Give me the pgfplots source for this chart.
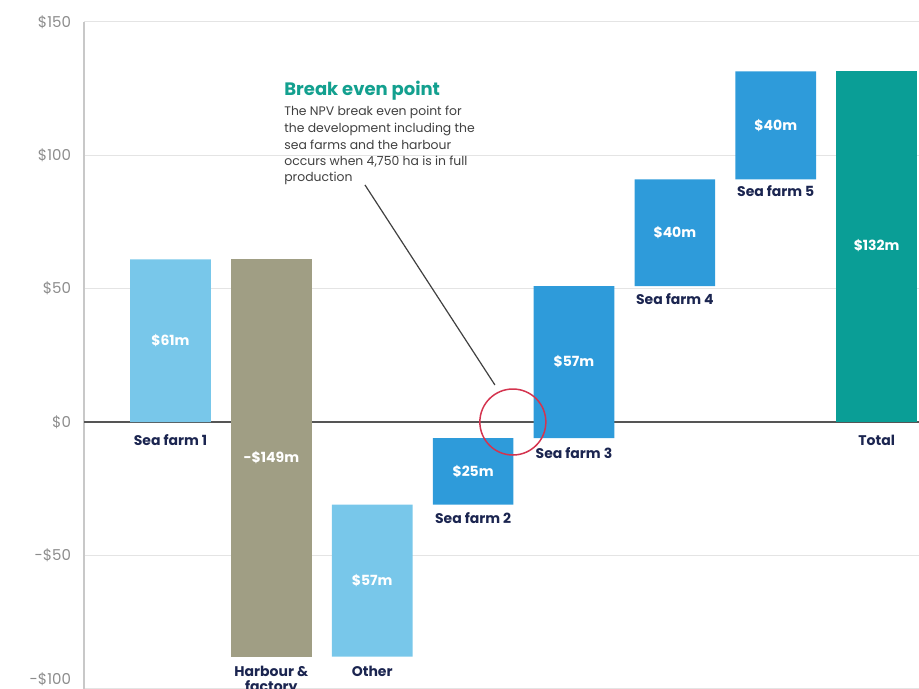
\documentclass[border=0pt]{standalone}
\usepackage{pgfplots}
\pgfplotsset{compat=1.18}
\usepackage{pgfplotstable}
\usepackage{fontspec}
\setmainfont{Poppins}
\definecolor{lightblue}{HTML}{78C7EA}
\definecolor{khaki}{HTML}{A09E84}
\definecolor{farmblue}{HTML}{2E9BDA}
\definecolor{totalteal}{HTML}{0A9E96}
\definecolor{navy}{HTML}{1B2550}
\definecolor{tickgrey}{HTML}{8C8C8C}
\definecolor{gridgrey}{HTML}{E4E4E4}
\definecolor{axisgrey}{HTML}{C8C8C8}
\definecolor{zerogrey}{HTML}{555555}
\definecolor{titleteal}{HTML}{13A08F}
\definecolor{circred}{HTML}{D4344F}
\definecolor{bodygrey}{HTML}{404040}

\pgfplotstableread{
x base light khaki blue teal
0 0 61 0 0 0
1 -88 0 149 0 0
2 -88 57 0 0 0
3 -31 0 0 25 0
4 -6 0 0 57 0
5 51 0 0 40 0
6 91 0 0 40.5 0
7 0 0 0 0 131.5
}\data

\begin{document}
\begin{tikzpicture}
\useasboundingbox (0,0) rectangle (459.5pt,344.35pt);
\begin{axis}[
  at={(42pt,0pt)}, anchor=south west,
  scale only axis, width=417.5pt, height=333.35pt,
  xmin=-0.857, xmax=7.42, ymin=-100, ymax=150,
  ybar stacked, stack negative=on previous, bar width=0.8,
  axis x line=none,
  axis y line*=left,
  y axis line style={draw=axisgrey, line width=0.6pt},
  ytick={-100,-50,50,100,150},
  yticklabels={\raisebox{10pt}{-\$100},-\$50,\$50,\$100,\$150},
  extra y ticks={0},
  extra y tick labels={\$0},
  extra y tick style={grid style={draw=zerogrey, line width=0.6pt}},
  major tick length=0pt,
  ymajorgrids,
  grid style={draw=gridgrey, line width=0.5pt},
  yticklabel style={font=\fontsize{7.5}{8}\selectfont, text=tickgrey, xshift=-3pt},
  clip=false,
]
\addplot[fill=none, draw=none] table[x=x,y=base]{\data};
\addplot[fill=lightblue, draw=none] table[x=x,y=light]{\data};
\addplot[fill=khaki, draw=none] table[x=x,y=khaki]{\data};
\addplot[fill=farmblue, draw=none] table[x=x,y=blue]{\data};
\addplot[fill=totalteal, draw=none] table[x=x,y=teal]{\data};

\coordinate (v0) at (axis cs:0,30.5);
\coordinate (v1) at (axis cs:1,-13.5);
\coordinate (v2) at (axis cs:2,-59.5);
\coordinate (v3) at (axis cs:3,-18.5);
\coordinate (v4) at (axis cs:4,22.5);
\coordinate (v5) at (axis cs:5,71);
\coordinate (v6) at (axis cs:6,111);
\coordinate (v7) at (axis cs:7,66);
\coordinate (c0) at (axis cs:0,0);
\coordinate (c1) at (axis cs:1,-88);
\coordinate (c2) at (axis cs:2,-88);
\coordinate (c3) at (axis cs:3,-31);
\coordinate (c4) at (axis cs:4,-6);
\coordinate (c5) at (axis cs:5,51);
\coordinate (c6) at (axis cs:6,91);
\coordinate (c7) at (axis cs:7,0);
\coordinate (t0) at (axis cs:1.125,122.6);
\coordinate (b1) at (axis cs:1.125,114.75);
\coordinate (b2) at (axis cs:1.125,108.4);
\coordinate (b3) at (axis cs:1.125,102.0);
\coordinate (b4) at (axis cs:1.125,96.0);
\coordinate (b5) at (axis cs:1.125,90.0);
\coordinate (l1) at (axis cs:1.928,88.9);
\coordinate (l2) at (axis cs:3.216,13.9);
\coordinate (ring) at (axis cs:3.394,0);
\end{axis}

\tikzset{val/.style={font=\fontsize{7}{7.5}\selectfont\bfseries, text=white, inner sep=0pt},
         cat/.style={font=\fontsize{7}{7.5}\selectfont\bfseries, text=navy, inner sep=0pt, anchor=base, align=center},
         body/.style={anchor=base west, inner sep=0pt, font=\fontsize{6.2}{7}\selectfont, text=bodygrey}}
\node[val] at (v0) {\$61m};
\node[val] at (v1) {-\$149m};
\node[val] at (v2) {\$57m};
\node[val] at (v3) {\$25m};
\node[val] at (v4) {\$57m};
\node[val] at (v5) {\$40m};
\node[val] at (v6) {\$40m};
\node[val] at (v7) {\$132m};

\node[cat] at ([yshift=-11.5pt]c0) {Sea farm 1};
\node[cat, font=\fontsize{7}{7.5}\selectfont\bfseries] at ([yshift=-17.5pt]c1) {Harbour \&\\factory};
\node[cat] at ([yshift=-10pt]c2) {Other};
\node[cat] at ([yshift=-9.5pt]c3) {Sea farm 2};
\node[cat] at ([yshift=-10pt]c4) {Sea farm 3};
\node[cat] at ([yshift=-9pt]c5) {Sea farm 4};
\node[cat] at ([yshift=-8.5pt]c6) {Sea farm 5};
\node[cat] at ([yshift=-11.5pt]c7) {Total};

\node[anchor=base west, inner sep=0pt, font=\fontsize{9}{10}\selectfont\bfseries, text=titleteal] at (t0) {Break even point};
\node[body] at (b1) {The NPV break even point for};
\node[body] at (b2) {the development including the};
\node[body] at (b3) {sea farms and the harbour};
\node[body] at (b4) {occurs when 4,750 ha is in full};
\node[body] at (b5) {production};
\draw[bodygrey, line width=0.6pt] (l1) -- (l2);
\draw[circred, line width=0.75pt] (ring) circle[radius=16.5pt];
\end{tikzpicture}
\end{document}
